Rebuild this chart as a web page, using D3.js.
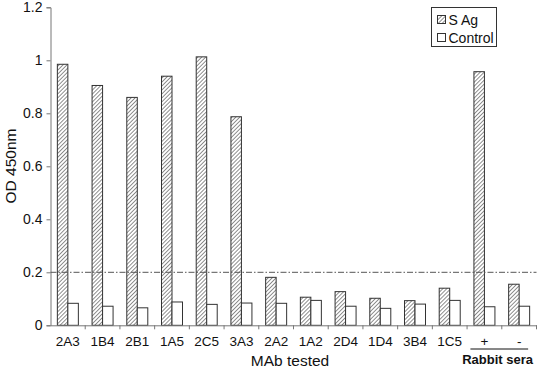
<!DOCTYPE html>
<html>
<head>
<meta charset="utf-8">
<script src="https://cdn.jsdelivr.net/npm/d3@7"></script>
<style>
  body { margin: 0; background: #fff; }
  text { font-family: "Liberation Sans", Arial, sans-serif; fill: #111; }
</style>
</head>
<body>
<svg id="chart"></svg>
<script>
var categories = ["2A3", "1B4", "2B1", "1A5", "2C5", "3A3", "2A2", "1A2", "2D4", "1D4", "3B4", "1C5", "+", "-"];
var sAg = [0.985, 0.905, 0.86, 0.94, 1.013, 0.787, 0.181, 0.106, 0.127, 0.102, 0.093, 0.14, 0.957, 0.155];
var control = [0.083, 0.072, 0.066, 0.088, 0.079, 0.084, 0.083, 0.094, 0.072, 0.064, 0.08, 0.094, 0.07, 0.072];
var yTicks = [0, 0.2, 0.4, 0.6, 0.8, 1, 1.2];
var cutoff = 0.2;

var width = 537, height = 370;
var svg = d3.select("#chart").attr("width", width).attr("height", height);

var defs = svg.append("defs");
defs.append("pattern")
    .attr("id", "hatch")
    .attr("patternUnits", "userSpaceOnUse")
    .attr("width", 2.8).attr("height", 2.8)
    .attr("patternTransform", "rotate(45)")
  .append("line")
    .attr("x1", 0).attr("y1", 0).attr("x2", 0).attr("y2", 2.8)
    .attr("stroke", "#444").attr("stroke-width", 1.2);

var x = d3.scaleBand().domain(categories).range([50.5, 536.5]).paddingInner(0).paddingOuter(0);
var y = d3.scaleLinear().domain([0, 1.2]).range([325.3, 7.3]);
var barW = 10.5;

// y axis
var yAxis = d3.axisLeft(y).tickValues(yTicks).tickSize(4).tickPadding(4)
    .tickFormat(function(d){ return d3.format("~g")(d); });
var gy = svg.append("g").attr("transform", "translate(50.5,0)").call(yAxis);
gy.select(".domain").attr("stroke", "#777");
gy.selectAll(".tick line").attr("stroke", "#777");
gy.selectAll(".tick text").attr("font-size", 14).attr("fill", "#111")
    .attr("font-family", "Liberation Sans, Arial, sans-serif");

// bars
var groups = svg.append("g").selectAll("g")
    .data(categories).enter().append("g")
    .attr("transform", function(d){ return "translate(" + (x(d) + x.bandwidth() / 2) + ",0)"; });

groups.append("rect")
    .attr("x", -barW).attr("width", barW)
    .attr("y", function(d, i){ return y(sAg[i]); })
    .attr("height", function(d, i){ return y(0) - y(sAg[i]); })
    .attr("fill", "url(#hatch)").attr("stroke", "#333").attr("stroke-width", 1);

groups.append("rect")
    .attr("x", 0).attr("width", barW)
    .attr("y", function(d, i){ return y(control[i]); })
    .attr("height", function(d, i){ return y(0) - y(control[i]); })
    .attr("fill", "#fff").attr("stroke", "#333").attr("stroke-width", 1);

// x axis
var xAxis = d3.axisBottom(x).tickSize(0).tickPadding(11);
var gx = svg.append("g").attr("transform", "translate(0," + y(0) + ")").call(xAxis);
gx.select(".domain").attr("stroke", "#777");
gx.selectAll(".tick text").attr("font-size", 13.5).attr("fill", "#111")
    .attr("font-family", "Liberation Sans, Arial, sans-serif");
gx.selectAll(".sep").data(categories).enter().append("line")
    .attr("class", "sep")
    .attr("x1", function(d){ return x(d) + x.bandwidth(); })
    .attr("x2", function(d){ return x(d) + x.bandwidth(); })
    .attr("y1", 0).attr("y2", 4).attr("stroke", "#777");

// cutoff line
svg.append("line")
    .attr("x1", x.range()[0]).attr("x2", x.range()[1])
    .attr("y1", y(cutoff)).attr("y2", y(cutoff))
    .attr("stroke", "#555").attr("stroke-width", 1)
    .attr("stroke-dasharray", "6,2,1.5,2");

// titles
svg.append("text")
    .attr("transform", "translate(16,166) rotate(-90)")
    .attr("text-anchor", "middle").attr("font-size", 15.5)
    .text("OD 450nm");
svg.append("text")
    .attr("x", 290).attr("y", 366)
    .attr("text-anchor", "middle").attr("font-size", 15.5)
    .text("MAb tested");

// rabbit sera bracket
var xp = x("+") + x.bandwidth() / 2, xm = x("-") + x.bandwidth() / 2;
svg.append("line")
    .attr("x1", xp - 14).attr("x2", xm + 9)
    .attr("y1", 349).attr("y2", 349)
    .attr("stroke", "#111").attr("stroke-width", 1);
svg.append("text")
    .attr("x", 533).attr("y", 364)
    .attr("text-anchor", "end").attr("font-size", 13).attr("font-weight", "bold")
    .text("Rabbit sera");

// legend
var legend = svg.append("g").attr("transform", "translate(431.5,7.5)");
legend.append("rect").attr("width", 65).attr("height", 39)
    .attr("fill", "#fff").attr("stroke", "#333");
var items = [{name: "S Ag", fill: "url(#hatch)"}, {name: "Control", fill: "#fff"}];
var li = legend.selectAll(".item").data(items).enter().append("g")
    .attr("class", "item")
    .attr("transform", function(d, i){ return "translate(6," + (8 + i * 18) + ")"; });
li.append("rect").attr("width", 8).attr("height", 8)
    .attr("fill", function(d){ return d.fill; }).attr("stroke", "#333");
li.append("text").attr("x", 11).attr("y", 9).attr("font-size", 14)
    .text(function(d){ return d.name; });
</script>
</body>
</html>
